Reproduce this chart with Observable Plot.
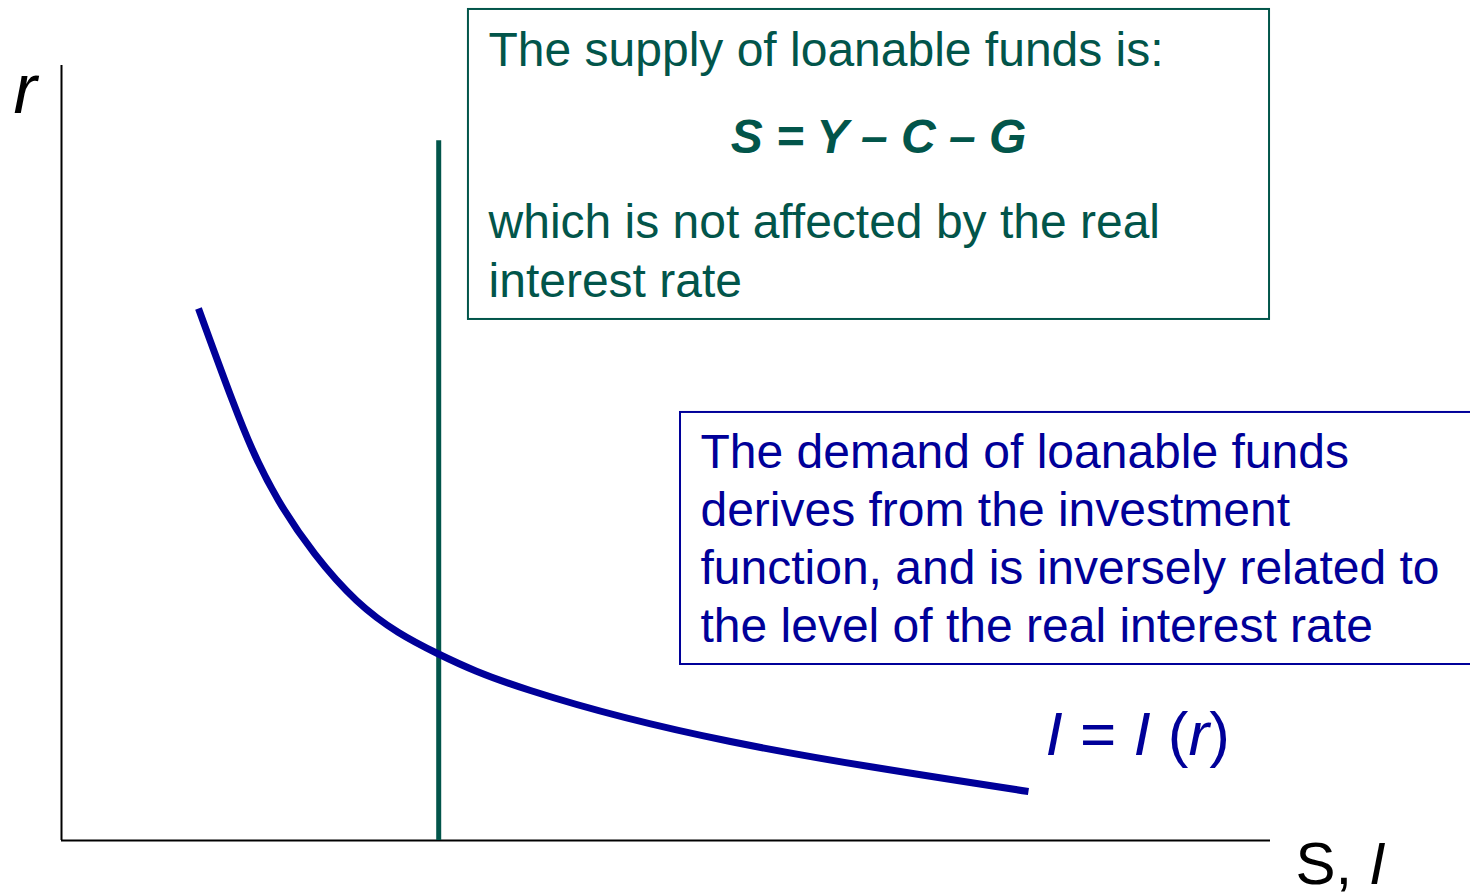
<!DOCTYPE html>
<html>
<head>
<meta charset="utf-8">
<script src="https://cdn.jsdelivr.net/npm/d3@7"></script>
<script src="https://cdn.jsdelivr.net/npm/@observablehq/plot@0.6"></script>
<style>
  html, body { margin: 0; padding: 0; background: #fff; }
  svg { display: block; }
</style>
</head>
<body>
<div id="chart"></div>
<script>
// Investment (demand of loanable funds) curve I = I(r): quantity vs real rate
const invQuantity = [11.33, 14.14, 17.95, 24.40, 31.10, 38.79, 55.33, 79.98];
const invRate     = [68.65, 56.77, 43.87, 30.97, 24.13, 19.35, 12.77,  6.32];

// Supply of loanable funds (vertical, not affected by r)
const supplyQuantity = [31.2];
const supplyRateMax = 90.3;

// Texts
const axisLabelY = "r";
const axisLabelX = "S, I";
const curveLabel = "I = I (r)";
const supplyTitle = "The supply of loanable funds is:";
const supplyEquation = "S = Y \u2013 C \u2013 G";
const supplyNote = "which is not affected by the real\ninterest rate";
const demandNote = "The demand of loanable funds\nderives from the investment\nfunction, and is inversely related to\nthe level of the real interest rate";

const GREEN = "#02554a";
const BLUE = "#000099";
const FONT = "'Liberation Sans', Arial, Helvetica, sans-serif";

const curve = invQuantity.map((q, i) => ({q, r: invRate[i]}));

const plot = Plot.plot({
  width: 1470,
  height: 894,
  marginLeft: 61,
  marginRight: 200,
  marginTop: 65,
  marginBottom: 54,
  style: {fontFamily: FONT, background: "#fff", overflow: "visible"},
  x: {domain: [0, 100], axis: null},
  y: {domain: [0, 100], axis: null},
  marks: [
    // annotation boxes
    Plot.rect([{x1: 33.66, x2: 99.92, y1: 67.23, y2: 107.23}], {x1: "x1", x2: "x2", y1: "y1", y2: "y2", fill: "white", stroke: GREEN, strokeWidth: 2, clip: false}),
    Plot.rect([{x1: 51.2, x2: 118, y1: 22.71, y2: 55.23}], {x1: "x1", x2: "x2", y1: "y1", y2: "y2", fill: "white", stroke: BLUE, strokeWidth: 2, clip: false}),
    // axes
    Plot.ruleX([0], {stroke: "black", strokeWidth: 2}),
    Plot.ruleY([0], {x1: 0, x2: 100, stroke: "black", strokeWidth: 2}),
    // supply
    Plot.ruleX(supplyQuantity, {y1: 0, y2: supplyRateMax, stroke: GREEN, strokeWidth: 5}),
    // investment curve
    Plot.line(curve, {x: "q", y: "r", curve: "natural", stroke: BLUE, strokeWidth: 7, strokeLinecap: "butt"}),
    // texts in supply box
    Plot.text([supplyTitle], {x: 35.32, y: 100.0, text: d => d, textAnchor: "start", lineAnchor: "bottom", fontSize: 48, fill: GREEN}),
    Plot.text([supplyEquation], {x: 67.58, y: 88.77, text: d => d, textAnchor: "middle", lineAnchor: "bottom", fontSize: 48, fontWeight: "bold", fontStyle: "italic", fill: GREEN}),
    Plot.text([supplyNote], {x: 35.32, y: 70.19, text: d => d, textAnchor: "start", lineAnchor: "bottom", lineHeight: 1.21, fontSize: 48, fill: GREEN}),
    // demand box
    Plot.text([demandNote], {x: 52.85, y: 25.55, text: d => d, textAnchor: "start", lineAnchor: "bottom", lineHeight: 1.21, fontSize: 48, fill: BLUE}),
    // curve label
    Plot.text([curveLabel], {x: 81.39, y: 10.97, text: d => d, textAnchor: "start", lineAnchor: "bottom", fontSize: 62, fill: BLUE}),
    // axis labels
    Plot.text([axisLabelY], {x: -3.97, y: 93.9, text: d => d, textAnchor: "start", lineAnchor: "bottom", fontSize: 70, fontStyle: "italic", fill: "black"}),
    Plot.text([axisLabelX], {x: 102.07, y: -5.55, text: d => d, textAnchor: "start", lineAnchor: "bottom", fontSize: 60, fill: "black"})
  ]
});

// Mixed italic styling inside labels
d3.select(plot).selectAll("text").each(function() {
  const t = this.textContent;
  const sel = d3.select(this);
  if (t === curveLabel) {
    sel.text(null);
    [["I", true], [" = ", false], ["I", true], [" (", false], ["r", true], [")", false]].forEach(([s, it]) => {
      sel.append("tspan").attr("font-style", it ? "italic" : "normal").text(s);
    });
  } else if (t === axisLabelX) {
    sel.text(null);
    [["S, ", false], ["I", true]].forEach(([s, it]) => {
      sel.append("tspan").attr("font-style", it ? "italic" : "normal").text(s);
    });
  }
});

document.getElementById("chart").appendChild(plot);
</script>
</body>
</html>
